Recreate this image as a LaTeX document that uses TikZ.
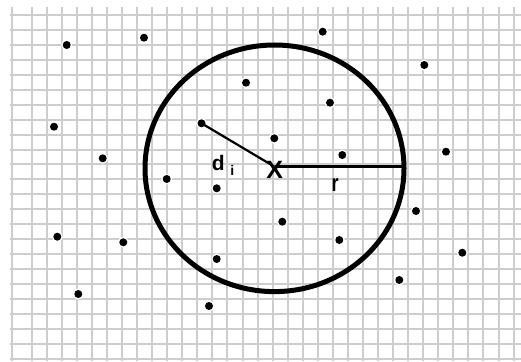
\documentclass[tikz,border=0pt]{standalone}
\usepackage{fontspec}
\setmainfont{Liberation Sans}
\begin{document}
\begin{tikzpicture}[x=1pt,y=-1pt,
  gridline/.style={draw={rgb,255:red,205;green,205;blue,205},line width=1.6pt},
  dotpt/.style={circle,fill=black,inner sep=0pt,minimum size=8pt},
  halo/.style={circle,fill=white,inner sep=0pt,minimum size=11pt},
  lbl/.style={font=\bfseries,inner sep=0pt,text=black}]
\useasboundingbox (0,0) rectangle (521,361);
\fill[white] (0,0) rectangle (521,361);
% grid
\draw[gridline] (12,7) -- (12,361);
\foreach \k in {0,...,32}{
  \pgfmathsetmacro\gx{round(31.7+15.06*\k)}
  \draw[gridline] (\gx,7) -- (\gx,361);
}
\foreach \k in {0,...,23}{
  \pgfmathsetmacro\gy{round(15+14.95*\k)}
  \draw[gridline] (10,\gy) -- (521,\gy);
}
% halos
\foreach \x/\y in {66.7/45,144/37.7,322.7/31.7,424.3/65,246/82.7,330/102.7,54/126.7,102.7/158.3,274.3/138.3,342.3/155,446/151.7,166.7/179,216.7/188.3,57.3/236.7,123.3/242.3,282.3/221.7,339.3/240,416/211,462.3/252.7,216.7/259,399.3/280,78.3/294,209/306,201.5/123.3}{
  \node[halo] at (\x,\y) {};
}
% circle
\coordinate (c) at (274.5,168.3);
\coordinate (e) at (404,166.7);
\coordinate (xs) at (274.5,166.7);
\draw[line width=5pt] (c) ellipse [x radius=129.5pt, y radius=123.3pt];
% radius
\draw[line width=3.2pt] (xs) -- (e);
% d_i segment
\node[dotpt] (q) at (201.5,123.3) {};
\draw[line width=2.2pt] (q.center) -- (xs);
% points
\foreach \n/\x/\y in {1/66.7/45,2/144/37.7,3/322.7/31.7,4/424.3/65,5/246/82.7,6/330/102.7,7/54/126.7,8/102.7/158.3,9/274.3/138.3,10/342.3/155,11/446/151.7,12/166.7/179,13/216.7/188.3,14/57.3/236.7,15/123.3/242.3,16/282.3/221.7,17/339.3/240,18/416/211,19/462.3/252.7,20/216.7/259,21/399.3/280,22/78.3/294,23/209/306}{
  \node[dotpt] (p\n) at (\x,\y) {};
}
% labels
\node[lbl,font=\bfseries\fontsize{25}{25}\selectfont] (xl) at (274.7,169.5) {X};
\node[lbl,font=\bfseries\fontsize{21}{21}\selectfont,anchor=base] (dl) at (218.3,170) {d};
\node[lbl,font=\bfseries\fontsize{14}{14}\selectfont,anchor=base] (il) at (232.3,175.7) {i};
\node[lbl,font=\bfseries\fontsize{24}{24}\selectfont,anchor=base,xscale=0.75] (rl) at (335,191.7) {r};
\end{tikzpicture}
\end{document}
